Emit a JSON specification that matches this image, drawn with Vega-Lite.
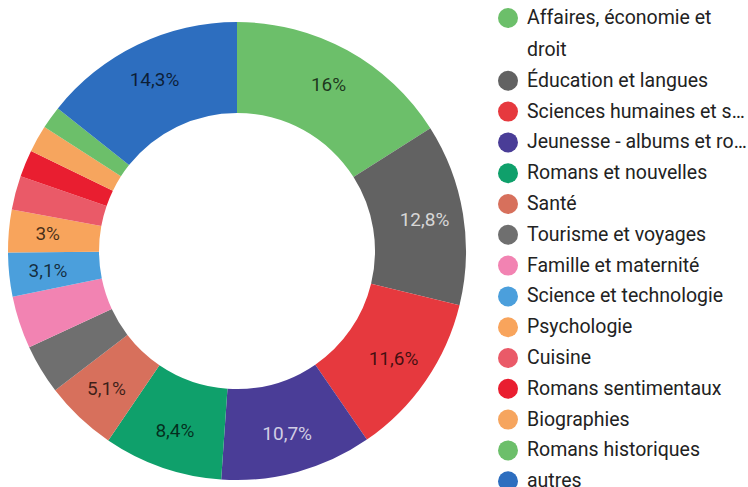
{
  "$schema": "https://vega.github.io/schema/vega-lite/v6.json",
  "width": 474,
  "height": 486,
  "padding": {"top": 8, "left": 0, "right": 0, "bottom": 0},
  "autosize": {"type": "pad"},
  "background": "white",
  "data": {
    "values": [
      {"rank": 1, "cat": "Affaires, économie et droit", "share": 0.16},
      {"rank": 2, "cat": "Éducation et langues", "share": 0.128},
      {"rank": 3, "cat": "Sciences humaines et sociales", "share": 0.116},
      {"rank": 4, "cat": "Jeunesse - albums et romans", "share": 0.107},
      {"rank": 5, "cat": "Romans et nouvelles", "share": 0.084},
      {"rank": 6, "cat": "Santé", "share": 0.051},
      {"rank": 7, "cat": "Tourisme et voyages", "share": 0.035},
      {"rank": 8, "cat": "Famille et maternité", "share": 0.037},
      {"rank": 9, "cat": "Science et technologie", "share": 0.031},
      {"rank": 10, "cat": "Psychologie", "share": 0.03},
      {"rank": 11, "cat": "Cuisine", "share": 0.024},
      {"rank": 12, "cat": "Romans sentimentaux", "share": 0.019},
      {"rank": 13, "cat": "Biographies", "share": 0.019},
      {"rank": 14, "cat": "Romans historiques", "share": 0.016},
      {"rank": 15, "cat": "autres", "share": 0.143}
    ]
  },
  "encoding": {
    "theta": {"field": "share", "type": "quantitative", "stack": true},
    "order": {"field": "rank", "type": "quantitative"}
  },
  "layer": [
    {
      "mark": {"type": "arc", "innerRadius": 138, "outerRadius": 229},
      "encoding": {
        "color": {
          "field": "cat",
          "type": "nominal",
          "scale": {
            "domain": ["Affaires, économie et droit", "Éducation et langues", "Sciences humaines et sociales", "Jeunesse - albums et romans", "Romans et nouvelles", "Santé", "Tourisme et voyages", "Famille et maternité", "Science et technologie", "Psychologie", "Cuisine", "Romans sentimentaux", "Biographies", "Romans historiques", "autres"],
            "range": ["#6cbf6a", "#626262", "#e6393e", "#4a3d97", "#0fa06b", "#d7705c", "#6f6f6f", "#f283b2", "#4b9fdc", "#f8a45c", "#ea5a68", "#e91e30", "#f6a55e", "#6cbf6a", "#2d6ebf"]
          },
          "legend": {
            "title": null,
            "orient": "none",
            "legendX": 498,
            "legendY": 0,
            "padding": 0,
            "symbolType": "circle",
            "symbolSize": 400,
            "symbolStrokeWidth": 0,
            "symbolOpacity": 1,
            "labelFont": "Roboto",
            "labelFontSize": 19.5,
            "labelColor": "#222222",
            "labelOffset": 9,
            "labelLimit": 222,
            "rowPadding": 10.8,
            "labelExpr": "datum.label == 'Affaires, économie et droit' ? ['Affaires, économie et', 'droit'] : datum.label"
          }
        }
      }
    },
    {
      "mark": {"type": "text", "radius": 190, "font": "Roboto", "fontSize": 19, "align": "center", "baseline": "middle"},
      "encoding": {
        "text": {
          "field": "share",
          "type": "quantitative",
          "format": ".1~%",
          "condition": {"test": "datum.share < 0.03 || datum.cat == 'Tourisme et voyages' || datum.cat == 'Famille et maternité'", "value": ""}
        },
        "color": {
          "condition": {"test": "datum.cat == 'Éducation et langues' || datum.cat == 'Jeunesse - albums et romans'", "value": "rgba(255,255,255,0.75)"},
          "value": "rgba(0,0,0,0.72)"
        }
      }
    }
  ],
  "config": {
    "view": {"stroke": null},
    "locale": {"number": {"decimal": ",", "thousands": " ", "grouping": [3], "currency": ["", " €"]}},
    "style": {"guide-label": {"lineHeight": 32}}
  }
}
